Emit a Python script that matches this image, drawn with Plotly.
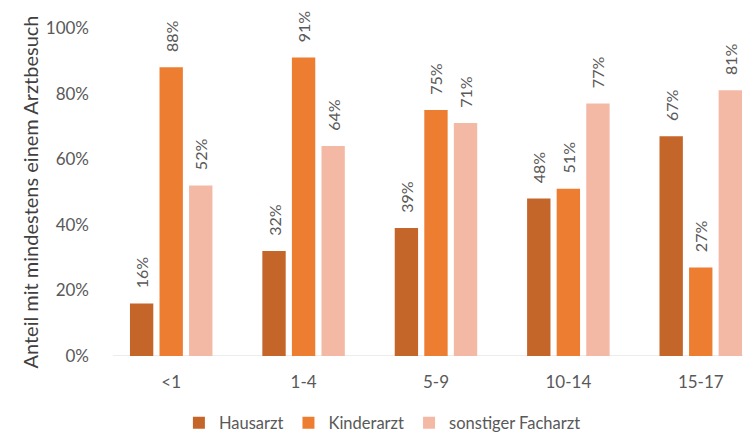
import plotly.graph_objects as go

categories = ["<1", "1-4", "5-9", "10-14", "15-17"]
hausarzt = [16, 32, 39, 48, 67]
kinderarzt = [88, 91, 75, 51, 27]
facharzt = [52, 64, 71, 77, 81]
series_names = ["Hausarzt", "Kinderarzt", "sonstiger Facharzt"]
colors = ["#C4652A", "#ED7D31", "#F4B9A5"]

PAD = "\u00a0\u00a0\u00a0"

fig = go.Figure()
for name, vals, col in zip(series_names, [hausarzt, kinderarzt, facharzt], colors):
    fig.add_trace(go.Bar(
        x=categories, y=[v / 100 for v in vals], name=name,
        marker=dict(color=col, line=dict(width=0)),
        text=[f"{PAD}{v}%" for v in vals], textposition="outside", textangle=-90,
        constraintext="none",
        textfont=dict(color="#595959", size=16), cliponaxis=False,
    ))

fig.add_shape(type="line", xref="paper", yref="y", x0=0.012, x1=1, y0=0, y1=0,
              line=dict(color="#D9D9D9", width=1), layer="below")

fig.update_layout(
    width=751, height=433, barmode="group", bargap=0.33, bargroupgap=0.21,
    plot_bgcolor="white", paper_bgcolor="white",
    font=dict(family="Lato, Liberation Sans, sans-serif", color="#595959", size=17),
    margin=dict(l=97, r=0, t=20, b=78),
    legend=dict(orientation="h", x=0.113, xanchor="left", y=-0.204, yanchor="middle",
                font=dict(size=16.5, color="#595959"), itemwidth=30,
                traceorder="normal"),
    yaxis=dict(range=[0, 1], tickformat=".0%", dtick=0.2, showgrid=False, zeroline=False,
               automargin=False, ticklabelstandoff=15,
               tickfont=dict(size=17, color="#595959"), ticks="", ticklen=0,
               title=dict(text="Anteil mit mindestens einem Arztbesuch",
                          font=dict(size=20, color="#404040"), standoff=1)),
    xaxis=dict(showline=False, ticks="",
               range=[-0.5, 4.44], automargin=False, ticklabelstandoff=14,
               tickfont=dict(size=17, color="#595959")),
)
fig.write_html("out.html")
